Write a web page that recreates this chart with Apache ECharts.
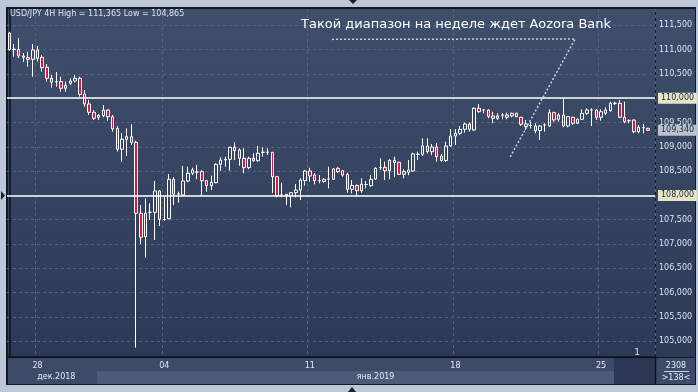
<!DOCTYPE html>
<html><head><meta charset="utf-8">
<script src="https://cdn.jsdelivr.net/npm/echarts@6.0.0/dist/echarts.min.js"></script>
<style>html,body{margin:0;padding:0;background:#bcc8d8}#c{width:698px;height:392px}</style>
</head><body><div id="c"></div>
<script>
// ---- data (USD/JPY 4H) ----
const opens = [111.34,111.00,111.00,110.842,110.833,110.80,110.99,110.842,110.636,110.409,110.34,110.34,110.204,110.307,110.354,110.409,110.086,109.881,109.71,109.607,109.640,109.757,109.619,109.381,108.949,109.154,109.208,109.093,107.632,107.150,107.65,107.652,108.091,107.50,107.521,108.331,108.03,108.008,108.296,108.455,108.48,108.488,108.302,108.200,108.261,108.640,108.728,108.743,108.99,108.934,108.763,108.570,108.763,108.714,108.887,108.887,108.887,108.385,108.008,107.988,107.988,108.056,108.111,108.302,108.502,108.420,108.302,108.286,108.335,108.331,108.558,108.508,108.434,108.126,108.204,108.097,108.224,108.200,108.337,108.57,108.578,108.508,108.722,108.681,108.434,108.475,108.502,108.846,108.846,109.016,108.899,108.996,108.811,108.718,109.016,109.222,109.278,109.360,109.469,109.346,109.792,109.757,109.757,109.634,109.586,109.654,109.654,109.634,109.689,109.607,109.418,109.438,109.428,109.335,109.449,109.428,109.702,109.566,109.654,109.428,109.607,109.484,109.566,109.689,109.757,109.757,109.607,109.689,109.743,109.895,109.895,109.607,109.537,109.551,109.311,109.393,109.381];
const closes = [111.00,111.01,110.868,110.868,110.80,110.992,110.821,110.628,110.409,110.327,110.34,110.204,110.265,110.354,110.409,110.080,109.881,109.710,109.586,109.648,109.757,109.619,109.366,108.949,109.154,109.208,109.093,107.632,107.138,107.632,107.655,108.091,107.508,107.505,108.331,108.023,108.03,108.296,108.455,108.523,108.48,108.302,108.200,108.270,108.640,108.728,108.743,108.990,108.920,108.763,108.570,108.763,108.714,108.866,108.887,108.89,108.385,107.994,108.008,108.023,108.056,108.111,108.317,108.502,108.399,108.302,108.302,108.331,108.335,108.543,108.488,108.420,108.126,108.204,108.097,108.228,108.224,108.331,108.558,108.57,108.508,108.722,108.677,108.434,108.488,108.523,108.852,108.846,109.016,108.899,108.996,108.796,108.718,109.016,109.222,109.278,109.360,109.469,109.360,109.792,109.722,109.757,109.628,109.586,109.634,109.654,109.607,109.689,109.619,109.463,109.469,109.438,109.331,109.428,109.449,109.702,109.551,109.654,109.428,109.619,109.484,109.566,109.689,109.757,109.757,109.607,109.722,109.757,109.895,109.895,109.607,109.516,109.537,109.311,109.401,109.393,109.340];
const lows = [110.98,110.854,110.827,110.745,110.648,110.442,110.751,110.545,110.340,110.216,110.237,110.134,110.134,110.272,110.327,110.031,109.825,109.654,109.551,109.551,109.607,109.537,109.311,108.899,108.693,108.811,109.037,104.865,107.0,106.718,107.494,107.082,107.370,107.479,107.508,107.802,107.850,107.988,108.270,108.420,108.331,108.0,108.076,108.111,108.249,108.502,108.591,108.508,108.728,108.611,108.455,108.537,108.693,108.693,108.796,108.831,108.043,107.961,107.961,107.802,107.755,107.961,107.905,108.200,108.282,108.228,108.249,108.261,108.146,108.317,108.467,108.385,108.056,108.043,107.973,108.056,108.146,108.179,108.317,108.523,108.317,108.331,108.372,108.420,108.352,108.414,108.488,108.728,108.811,108.862,108.831,108.693,108.693,108.687,109.002,109.037,109.243,109.290,109.311,109.325,109.702,109.689,109.586,109.484,109.551,109.566,109.566,109.607,109.607,109.428,109.346,109.377,109.278,109.140,109.311,109.414,109.516,109.516,109.401,109.401,109.449,109.469,109.551,109.654,109.428,109.551,109.537,109.654,109.722,109.860,109.586,109.484,109.484,109.278,109.278,109.278,109.33];
const highs = [111.365,111.115,111.239,110.930,110.957,111.115,111.074,110.889,110.704,110.477,110.539,110.442,110.340,110.409,110.477,110.442,110.169,109.963,109.757,109.675,109.860,109.772,109.654,109.428,109.284,109.381,109.463,109.126,107.802,107.940,107.837,108.296,108.111,107.973,108.440,108.372,108.076,108.605,108.591,108.570,108.626,108.523,108.317,108.405,108.661,108.784,108.796,109.002,109.093,108.969,108.969,108.796,108.866,109.016,108.990,108.969,108.89,108.399,108.261,108.029,108.056,108.235,108.352,108.523,108.570,108.455,108.420,108.352,108.591,108.558,108.578,108.523,108.467,108.317,108.224,108.352,108.296,108.420,108.578,108.763,108.693,108.743,108.796,108.693,108.537,108.728,108.879,108.899,109.175,109.175,109.058,109.078,108.852,109.105,109.366,109.360,109.428,109.496,109.496,109.813,109.881,109.778,109.772,109.722,109.689,109.689,109.702,109.702,109.702,109.619,109.551,109.516,109.484,109.449,109.484,109.772,109.722,109.689,109.984,109.634,109.619,109.586,109.772,109.792,109.792,109.772,109.772,109.813,109.928,109.928,109.963,109.928,109.566,109.566,109.449,109.469,109.39];
const barCount = 138;                       // visible bar slots (last one is empty shift)
const categories = Array.from({length: barCount}, (_, i) => String(i));
const dateTickIdx = [6, 33, 64, 95, 126];
const dateTickLabels = ['28', '04', '11', '18', '25'];
const monthIdx = [10, 78];
const monthLabels = ['дек.2018', 'янв.2019'];
const yTickValues = [105, 105.5, 106, 106.5, 107, 107.5, 108, 108.5, 109, 109.5, 110, 110.5, 111, 111.5];
const levelValues = [110, 108];
const currentPrice = 109.34;
const annotationPoints = [[68.7, 111.21], [120.5, 111.22], [106.6, 108.78]];
const titleText = 'USD/JPY 4H High = 111,365 Low = 104,865';
const annotationText = 'Такой диапазон на неделе ждет Aozora Bank';

const fmt = v => v.toFixed(3).replace('.', ',');
const ohlc = opens.map((o, i) => [o, closes[i], lows[i], highs[i]]);

const chart = echarts.init(document.getElementById('c'), null, {renderer: 'canvas'});
const FONT = 'DejaVu Sans';
const gridDash = {color: '#56657f', width: 1, type: [3, 3]};
const tagLabel = {show: true, position: 'end', distance: 3, fontSize: 8, fontFamily: FONT, color: '#1c2740',
  backgroundColor: '#e6e5c6', padding: [2, 3, 1, 3], formatter: p => fmt(p.value)};

chart.setOption({
  animation: false,
  backgroundColor: '#bcc8d8',
  title: {text: titleText, left: 10, top: 10, padding: 0,
    textStyle: {fontSize: 8, fontWeight: 'normal', color: '#dbe3ee', fontFamily: FONT}},
  grid: {left: 7, right: 43, top: 9, bottom: 35, containLabel: false},
  xAxis: [
    {type: 'category', data: categories, boundaryGap: true, position: 'bottom',
      axisLine: {show: true, lineStyle: {color: '#0e121a', width: 1.5}},
      axisTick: {show: false},
      axisLabel: {interval: (i) => dateTickIdx.includes(i), color: '#e2e8f2', fontSize: 8, fontFamily: FONT, margin: 5,
        formatter: (v, i) => dateTickLabels[dateTickIdx.indexOf(i)] || ''},
      splitLine: {show: true, interval: (i) => dateTickIdx.includes(i), lineStyle: gridDash}},
    {type: 'category', data: categories, boundaryGap: true, position: 'bottom', offset: 11,
      axisLine: {show: false}, axisTick: {show: false}, splitLine: {show: false},
      axisLabel: {interval: (i) => monthIdx.includes(i), color: '#e2e8f2', fontSize: 8, fontFamily: FONT, margin: 5,
        formatter: (v, i) => monthLabels[monthIdx.indexOf(i)] || ''}},
    {type: 'value', min: -0.5, max: barCount - 0.5, show: false}
  ],
  yAxis: {type: 'value', position: 'right', min: 104.675, max: 111.835, scale: true,
    axisLine: {show: true, lineStyle: {color: '#0e121a', width: 1.5}},
    axisTick: {show: false, customValues: yTickValues},
    axisLabel: {customValues: yTickValues, formatter: fmt, color: '#dbe3ee', fontSize: 8, fontFamily: FONT, margin: 4},
    splitLine: {show: true, lineStyle: gridDash}},
  graphic: [
    {type: 'rect', silent: true, z: -20, shape: {x: 6, y: 7, width: 690, height: 378}, style: {fill: '#121824'}},
    {type: 'rect', silent: true, z: -19, shape: {x: 8, y: 9, width: 647, height: 348},
      style: {fill: new echarts.graphic.LinearGradient(0, 0, 0, 1, [{offset: 0, color: '#3f4e6b'}, {offset: 1, color: '#2c3a57'}])}},
    {type: 'rect', silent: true, z: -19, shape: {x: 656, y: 9, width: 39, height: 348},
      style: {fill: new echarts.graphic.LinearGradient(0, 0, 0, 1, [{offset: 0, color: '#3f4e6b'}, {offset: 1, color: '#2c3a57'}])}},
    {type: 'rect', silent: true, z: -19, shape: {x: 8, y: 358, width: 647, height: 26}, style: {fill: '#3d4b69'}},
    {type: 'rect', silent: true, z: -18, shape: {x: 97, y: 371, width: 517, height: 13}, style: {fill: '#4d5b79'}},
    {type: 'rect', silent: true, z: -18, shape: {x: 614, y: 358, width: 41, height: 26}, style: {fill: '#2c3853'}},
    {type: 'rect', silent: true, z: -19, shape: {x: 656, y: 358, width: 39, height: 26}, style: {fill: '#3d4b69'}},
    {type: 'line', silent: true, z: 50, shape: {x1: 655.5, y1: 357, x2: 655.5, y2: 384}, style: {stroke: '#0e121a', lineWidth: 1.5}},
    {type: 'line', silent: true, z: 50, shape: {x1: 664, y1: 371.5, x2: 689, y2: 371.5}, style: {stroke: '#c9d2e0', lineWidth: 1}},
    {type: 'text', silent: true, z: 60, x: 676, y: 366, style: {text: '2308', fill: '#e2e8f2', font: '8px "DejaVu Sans"', align: 'center', verticalAlign: 'middle'}},
    {type: 'text', silent: true, z: 60, x: 676, y: 377.5, style: {text: '>138<', fill: '#e2e8f2', font: '8px "DejaVu Sans"', align: 'center', verticalAlign: 'middle'}},
    {type: 'text', silent: true, z: 60, x: 637, y: 353, style: {text: '1', fill: '#d5deea', font: '9px "DejaVu Sans"', align: 'center', verticalAlign: 'middle'}},
    {type: 'text', silent: true, z: 60, x: 301, y: 25, style: {text: annotationText, fill: '#ffffff', font: '13px "DejaVu Sans"', align: 'left', verticalAlign: 'middle'}},
    {type: 'polygon', silent: true, z: 60, shape: {points: [[349, 0], [357, 0], [353, 4]]}, style: {fill: '#1a2030'}},
    {type: 'polygon', silent: true, z: 60, shape: {points: [[348, 392], [356, 392], [352, 387]]}, style: {fill: '#1a2030'}},
    {type: 'polygon', silent: true, z: 60, shape: {points: [[1, 191], [1, 200], [5, 195.5]]}, style: {fill: '#1a2030'}}
  ],
  series: [
    {type: 'candlestick', xAxisIndex: 0, yAxisIndex: 0, data: ohlc, barWidth: 3,
      itemStyle: {color: 'rgba(0,0,0,0)', color0: '#e8123c', borderColor: '#ffffff', borderColor0: '#ffffff', borderColorDoji: '#ffffff', borderWidth: 1},
      markLine: {silent: true, symbol: ['none', 'none'], animation: false,
        lineStyle: {color: '#ffffff', width: 1.5, type: 'solid'},
        label: tagLabel,
        data: levelValues.map(v => ({yAxis: v}))}},
    {type: 'line', xAxisIndex: 0, yAxisIndex: 0, data: [], silent: true,
      markLine: {silent: true, symbol: ['none', 'none'], animation: false,
        lineStyle: {color: 'rgba(255,255,255,0)', width: 1},
        label: Object.assign({}, tagLabel, {backgroundColor: '#bcc2cc'}),
        data: [{yAxis: currentPrice}]}},
    {type: 'line', xAxisIndex: 2, yAxisIndex: 0, data: annotationPoints, symbol: 'none', silent: true, z: 5,
      lineStyle: {color: '#c9d1dd', width: 1.5, type: [2, 2]}}
  ]
});
</script></body></html>
